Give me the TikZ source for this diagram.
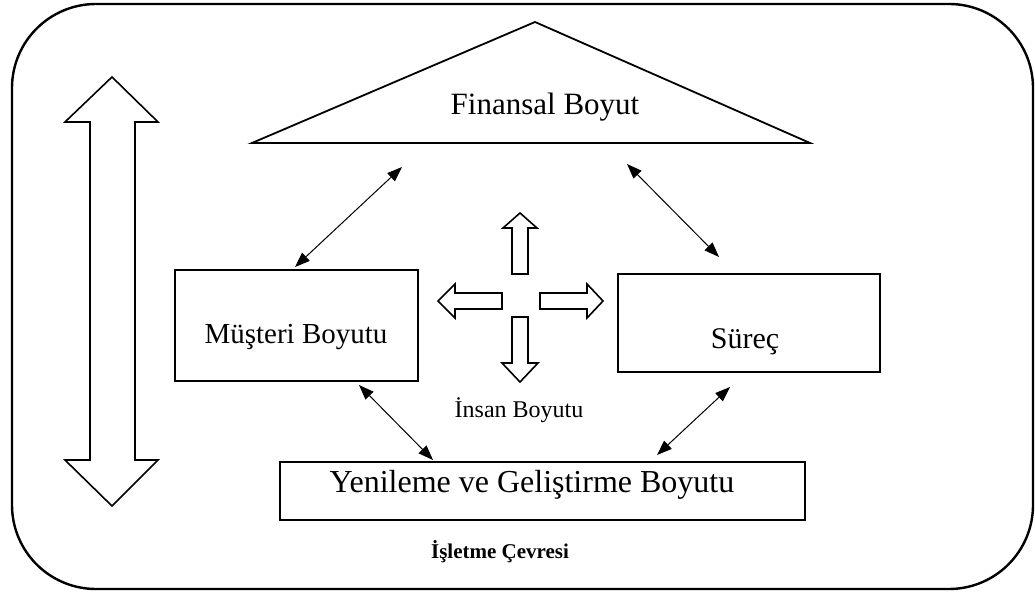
\documentclass[tikz,border=0pt]{standalone}
\usepackage{fontspec}
\setmainfont{Liberation Serif}
\usetikzlibrary{arrows.meta}
\begin{document}
\begin{tikzpicture}[x=1pt,y=-1pt,
  outerframe/.style={draw, line width=2.4pt, rounded corners=84pt},
  dimbox/.style={draw, line width=1.8pt, inner sep=0pt},
  dimtext/.style={font=\fontsize{#1}{#1}\selectfont, inner sep=0pt},
  dimtext/.default=29,
  link/.style={line width=1pt, {Triangle[length=15pt,width=11pt]}-{Triangle[length=15pt,width=11pt]}},
  blockarrow/.style={draw, line width=1.6pt, fill=white, line join=miter}]

\useasboundingbox (0,0) rectangle (1035,593);

% environment frame
\draw[outerframe] (12,4) rectangle (1033,589);

% financial dimension (triangle)
\coordinate (apex) at (535,22);
\coordinate (tl) at (252,143);
\coordinate (tr) at (810,143);
\draw[line width=1.8pt, line join=miter] (apex) -- (tr) -- (tl) -- cycle;
\node[dimtext=31] (fin) at (545,107) {Finansal Boyut};

% customer, process and renewal boxes
\node[dimbox, minimum width=243pt, minimum height=111pt] (musbox) at (296.5,325.5) {};
\node[dimtext=29] (mus) at (296,337) {Müşteri Boyutu};
\node[dimbox, minimum width=262pt, minimum height=98pt] (surbox) at (749,323) {};
\node[dimtext=30] (sur) at (745,342) {Süreç};
\node[dimbox, minimum width=525pt, minimum height=58pt] (yenbox) at (542.5,491) {};
\node[dimtext=32] (yen) at (532,485) {Yenileme ve Geliştirme Boyutu};

% human dimension
\node[dimtext=24] (ins) at (519,410) {İnsan Boyutu};
% environment caption
\node[inner sep=0pt, font=\fontsize{21}{21}\selectfont\bfseries] (env) at (500,552) {İşletme Çevresi};

% two-way links
\coordinate (l1a) at (295,267); \coordinate (l1b) at (402,167);
\coordinate (l2a) at (627,164); \coordinate (l2b) at (719,257);
\coordinate (l3a) at (359,385); \coordinate (l3b) at (433,460);
\coordinate (l4a) at (730,387); \coordinate (l4b) at (657,455);
\draw[link] (l1a) -- (l1b);
\draw[link] (l2a) -- (l2b);
\draw[link] (l3a) -- (l3b);
\draw[link] (l4a) -- (l4b);

% large vertical double arrow
\draw[blockarrow] (112,77) -- (158,122) -- (135,122) -- (135,460) -- (158,460)
  -- (112,506) -- (65,460) -- (90,460) -- (90,122) -- (65,122) -- cycle;

% four outward arrows around the human dimension
\draw[blockarrow] (520,213) -- (537,228) -- (528,228) -- (528,274) -- (512,274)
  -- (512,228) -- (503,228) -- cycle;
\draw[blockarrow] (520,382) -- (538,363) -- (528,363) -- (528,317) -- (512,317)
  -- (512,363) -- (502,363) -- cycle;
\draw[blockarrow] (438,301) -- (455,284) -- (455,293) -- (502,293) -- (502,309)
  -- (455,309) -- (455,318) -- cycle;
\draw[blockarrow] (603,301) -- (587,284) -- (587,293) -- (540,293) -- (540,309)
  -- (587,309) -- (587,318) -- cycle;
\end{tikzpicture}
\end{document}
